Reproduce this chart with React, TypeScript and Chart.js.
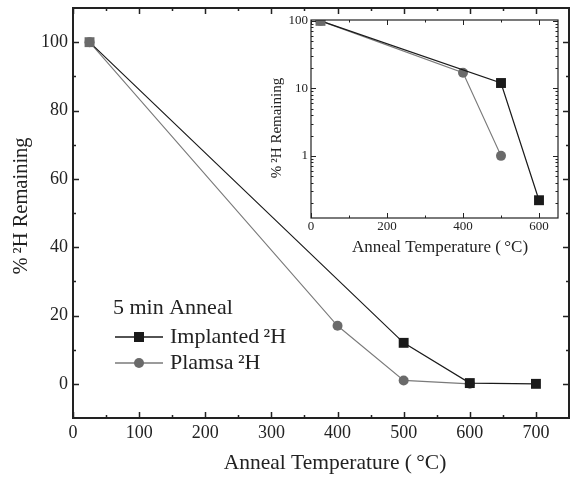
import React, { useEffect, useRef } from 'react';
import { Chart, registerables } from 'chart.js';
Chart.register(...registerables);

// ---- data ----
const implantedTemps = [25, 500, 600, 700];
const implantedValues = [100, 12, 0.22, 0];
const plasmaTemps = [25, 400, 500, 600];
const plasmaValues = [100, 17, 1, 0];

// ---- ticks ----
const mainXTicks = [0, 100, 200, 300, 400, 500, 600, 700];
const mainXMinor = [50, 150, 250, 350, 450, 550, 650];
const mainYTicks = [0, 20, 40, 60, 80, 100];
const mainYMinor = [10, 30, 50, 70, 90];
const insetXTicks = [0, 200, 400, 600];
const insetXMinor = [100, 300, 500];
const insetYTicks = [1, 10, 100];
const insetYMinor = [0.2, 0.3, 0.4, 0.5, 0.6, 0.7, 0.8, 0.9, 2, 3, 4, 5, 6, 7, 8, 9, 20, 30, 40, 50, 60, 70, 80, 90];

const legendTitle = '5 min Anneal';
const implantedLabel = 'Implanted\u2009²H';
const plasmaLabel = 'Plamsa\u2009²H';
const yTitle = '%\u2009²H Remaining';
const xTitle = 'Anneal Temperature (\u2009°C)';

const FONT = '"Liberation Serif", "DejaVu Serif", serif';
const TXT = '#222';
const BLACK = '#1a1a1a';
const GRAY = '#6a6a6a';
const GRAYLINE = '#7a7a7a';

function toPoints(xs: number[], ys: number[], logOnly: boolean) {
  const pts: { x: number; y: number }[] = [];
  xs.forEach((x, i) => {
    if (!logOnly || ys[i] > 0) pts.push({ x, y: ys[i] });
  });
  return pts;
}

function zeroPad(s: any) {
  s.paddingLeft = 0;
  s.paddingRight = 0;
  s.paddingTop = 0;
  s.paddingBottom = 0;
}

function framePlugin(cfg: any) {
  return {
    id: 'frame_' + cfg.name,
    afterDraw(chart: any) {
      const { ctx, chartArea } = chart;
      const { left, right, top, bottom } = chartArea;
      const xs = chart.scales.x;
      const ys = chart.scales.y;
      ctx.save();
      ctx.strokeStyle = '#222';
      ctx.lineWidth = cfg.frameWidth;
      ctx.strokeRect(left, top, right - left, bottom - top);
      ctx.lineWidth = cfg.tickWidth;
      const vt = (vals: number[], len: number) => {
        vals.forEach((v) => {
          const px = Math.round(xs.getPixelForValue(v)) + 0.5;
          ctx.beginPath();
          ctx.moveTo(px, bottom);
          ctx.lineTo(px, bottom - len);
          ctx.moveTo(px, top);
          ctx.lineTo(px, top + len);
          ctx.stroke();
        });
      };
      const ht = (vals: number[], len: number) => {
        vals.forEach((v) => {
          const py = Math.round(ys.getPixelForValue(v)) + 0.5;
          if (py < top - 0.5 || py > bottom + 0.5) return;
          ctx.beginPath();
          ctx.moveTo(left, py);
          ctx.lineTo(left + len, py);
          ctx.moveTo(right, py);
          ctx.lineTo(right - len, py);
          ctx.stroke();
        });
      };
      vt(cfg.xMajor, cfg.major);
      vt(cfg.xMinor, cfg.minor);
      ht(cfg.yMajor, cfg.major);
      ht(cfg.yMinor, cfg.minor);

      ctx.fillStyle = TXT;
      // y title
      ctx.save();
      ctx.translate(cfg.yTitleX, cfg.yTitleY);
      ctx.rotate(-Math.PI / 2);
      ctx.font = `${cfg.yTitleSize}px ${FONT}`;
      ctx.textAlign = 'center';
      ctx.textBaseline = 'middle';
      ctx.fillText(yTitle, 0, 0);
      ctx.restore();
      // x title
      ctx.font = `${cfg.xTitleSize}px ${FONT}`;
      ctx.textAlign = 'center';
      ctx.textBaseline = 'middle';
      ctx.fillText(xTitle, cfg.xTitleX, cfg.xTitleY);

      if (cfg.legend) {
        const L = cfg.legend;
        ctx.font = `${L.size}px ${FONT}`;
        ctx.textAlign = 'left';
        ctx.fillText(legendTitle, L.x, L.y0);
        const rows = [
          { y: L.y1, label: implantedLabel, line: BLACK, fill: BLACK, shape: 'rect' },
          { y: L.y2, label: plasmaLabel, line: GRAYLINE, fill: GRAY, shape: 'circle' },
        ];
        rows.forEach((r) => {
          ctx.strokeStyle = r.line;
          ctx.lineWidth = 1.3;
          ctx.beginPath();
          ctx.moveTo(L.x + 2, r.y);
          ctx.lineTo(L.x + 50, r.y);
          ctx.stroke();
          ctx.fillStyle = r.fill;
          const cx = L.x + 26;
          if (r.shape === 'rect') {
            ctx.fillRect(cx - 5, r.y - 5, 10, 10);
          } else {
            ctx.beginPath();
            ctx.arc(cx, r.y, 5, 0, Math.PI * 2);
            ctx.fill();
          }
          ctx.fillStyle = TXT;
          ctx.fillText(r.label, L.x + 57, r.y);
        });
      }
      ctx.restore();
    },
  };
}

function datasets(logOnly: boolean) {
  return [
    {
      label: implantedLabel,
      data: toPoints(implantedTemps, implantedValues, logOnly),
      showLine: true,
      borderColor: BLACK,
      borderWidth: 1.2,
      pointStyle: 'rect',
      pointRadius: 7,
      pointBackgroundColor: (c: any) => (c.dataIndex === 0 ? GRAY : BLACK),
      pointBorderColor: (c: any) => (c.dataIndex === 0 ? GRAY : BLACK),
      pointBorderWidth: 0,
    },
    {
      label: plasmaLabel,
      data: toPoints(plasmaTemps, plasmaValues, logOnly),
      showLine: true,
      borderColor: GRAYLINE,
      borderWidth: 1.1,
      pointStyle: 'circle',
      pointRadius: 5,
      pointBackgroundColor: GRAY,
      pointBorderColor: GRAY,
      pointBorderWidth: 0,
    },
  ];
}

export default function App() {
  const mainRef = useRef<HTMLCanvasElement>(null);
  const insetRef = useRef<HTMLCanvasElement>(null);

  useEffect(() => {
    document.body.style.margin = '0';
    const main = new Chart(mainRef.current!, {
      type: 'scatter',
      data: { datasets: datasets(false) as any },
      options: {
        responsive: false,
        animation: false,
        layout: { autoPadding: false, padding: { left: 0, right: 1, top: 8, bottom: 0 } },
        plugins: { legend: { display: false }, tooltip: { enabled: false } },
        scales: {
          x: {
            type: 'linear',
            min: 0,
            max: 750,
            afterBuildTicks: (s: any) => {
              s.ticks = mainXTicks.map((v) => ({ value: v }));
            },
            afterFit: (s: any) => {
              s.height = 59;
              zeroPad(s);
            },
            grid: { display: false, drawTicks: false },
            border: { display: false },
            ticks: {
              padding: 4,
              color: TXT,
              font: { family: FONT, size: 18 },
              maxRotation: 0,
              autoSkip: false,
              callback: (v: any) => String(v),
            },
          },
          y: {
            type: 'linear',
            min: -10,
            max: 110,
            afterBuildTicks: (s: any) => {
              s.ticks = mainYTicks.map((v) => ({ value: v }));
            },
            afterFit: (s: any) => {
              s.width = 73;
              zeroPad(s);
            },
            grid: { display: false, drawTicks: false },
            border: { display: false },
            ticks: {
              padding: 5,
              color: TXT,
              font: { family: FONT, size: 18 },
              autoSkip: false,
              callback: (v: any) => String(v),
            },
          },
        },
      },
      plugins: [
        framePlugin({
          name: 'main',
          frameWidth: 2,
          tickWidth: 1.5,
          major: 6,
          minor: 3,
          xMajor: mainXTicks,
          xMinor: mainXMinor,
          yMajor: mainYTicks,
          yMinor: mainYMinor,
          yTitleSize: 20.5,
          xTitleSize: 21.5,
          yTitleX: 22,
          yTitleY: 206,
          xTitleX: 335,
          xTitleY: 463,
          legend: { x: 113, y0: 308, y1: 337, y2: 363, size: 22 },
        }),
      ],
    });

    const inset = new Chart(insetRef.current!, {
      type: 'scatter',
      data: { datasets: datasets(true) as any },
      options: {
        responsive: false,
        animation: false,
        layout: { autoPadding: false, padding: { left: 0, right: 4, top: 10, bottom: 0 } },
        plugins: { legend: { display: false }, tooltip: { enabled: false } },
        scales: {
          x: {
            type: 'linear',
            min: 0,
            max: 650,
            afterBuildTicks: (s: any) => {
              s.ticks = insetXTicks.map((v) => ({ value: v }));
            },
            afterFit: (s: any) => {
              s.height = 42;
              zeroPad(s);
            },
            grid: { display: false, drawTicks: false },
            border: { display: false },
            ticks: {
              padding: 1,
              color: TXT,
              font: { family: FONT, size: 13 },
              maxRotation: 0,
              autoSkip: false,
              callback: (v: any) => String(v),
            },
          },
          y: {
            type: 'logarithmic',
            min: 0.12,
            max: 103,
            afterBuildTicks: (s: any) => {
              s.ticks = insetYTicks.map((v) => ({ value: v }));
            },
            afterFit: (s: any) => {
              s.width = 49;
              zeroPad(s);
            },
            grid: { display: false, drawTicks: false },
            border: { display: false },
            ticks: {
              padding: 3,
              color: TXT,
              font: { family: FONT, size: 13 },
              autoSkip: false,
              callback: (v: any) => String(v),
            },
          },
        },
      },
      plugins: [
        framePlugin({
          name: 'inset',
          frameWidth: 1.2,
          tickWidth: 1,
          major: 5,
          minor: 2.5,
          xMajor: insetXTicks,
          xMinor: insetXMinor,
          yMajor: insetYTicks,
          yMinor: insetYMinor,
          yTitleSize: 15,
          xTitleSize: 17,
          yTitleX: 15,
          yTitleY: 118,
          xTitleX: 178,
          xTitleY: 238,
        }),
      ],
    });

    return () => {
      main.destroy();
      inset.destroy();
    };
  }, []);

  return (
    <div style={{ position: 'relative', width: 570, height: 477, background: '#fff' }}>
      <canvas ref={mainRef} width={570} height={477} style={{ position: 'absolute', left: 0, top: 0 }} />
      <canvas ref={insetRef} width={300} height={250} style={{ position: 'absolute', left: 262, top: 10 }} />
    </div>
  );
}
